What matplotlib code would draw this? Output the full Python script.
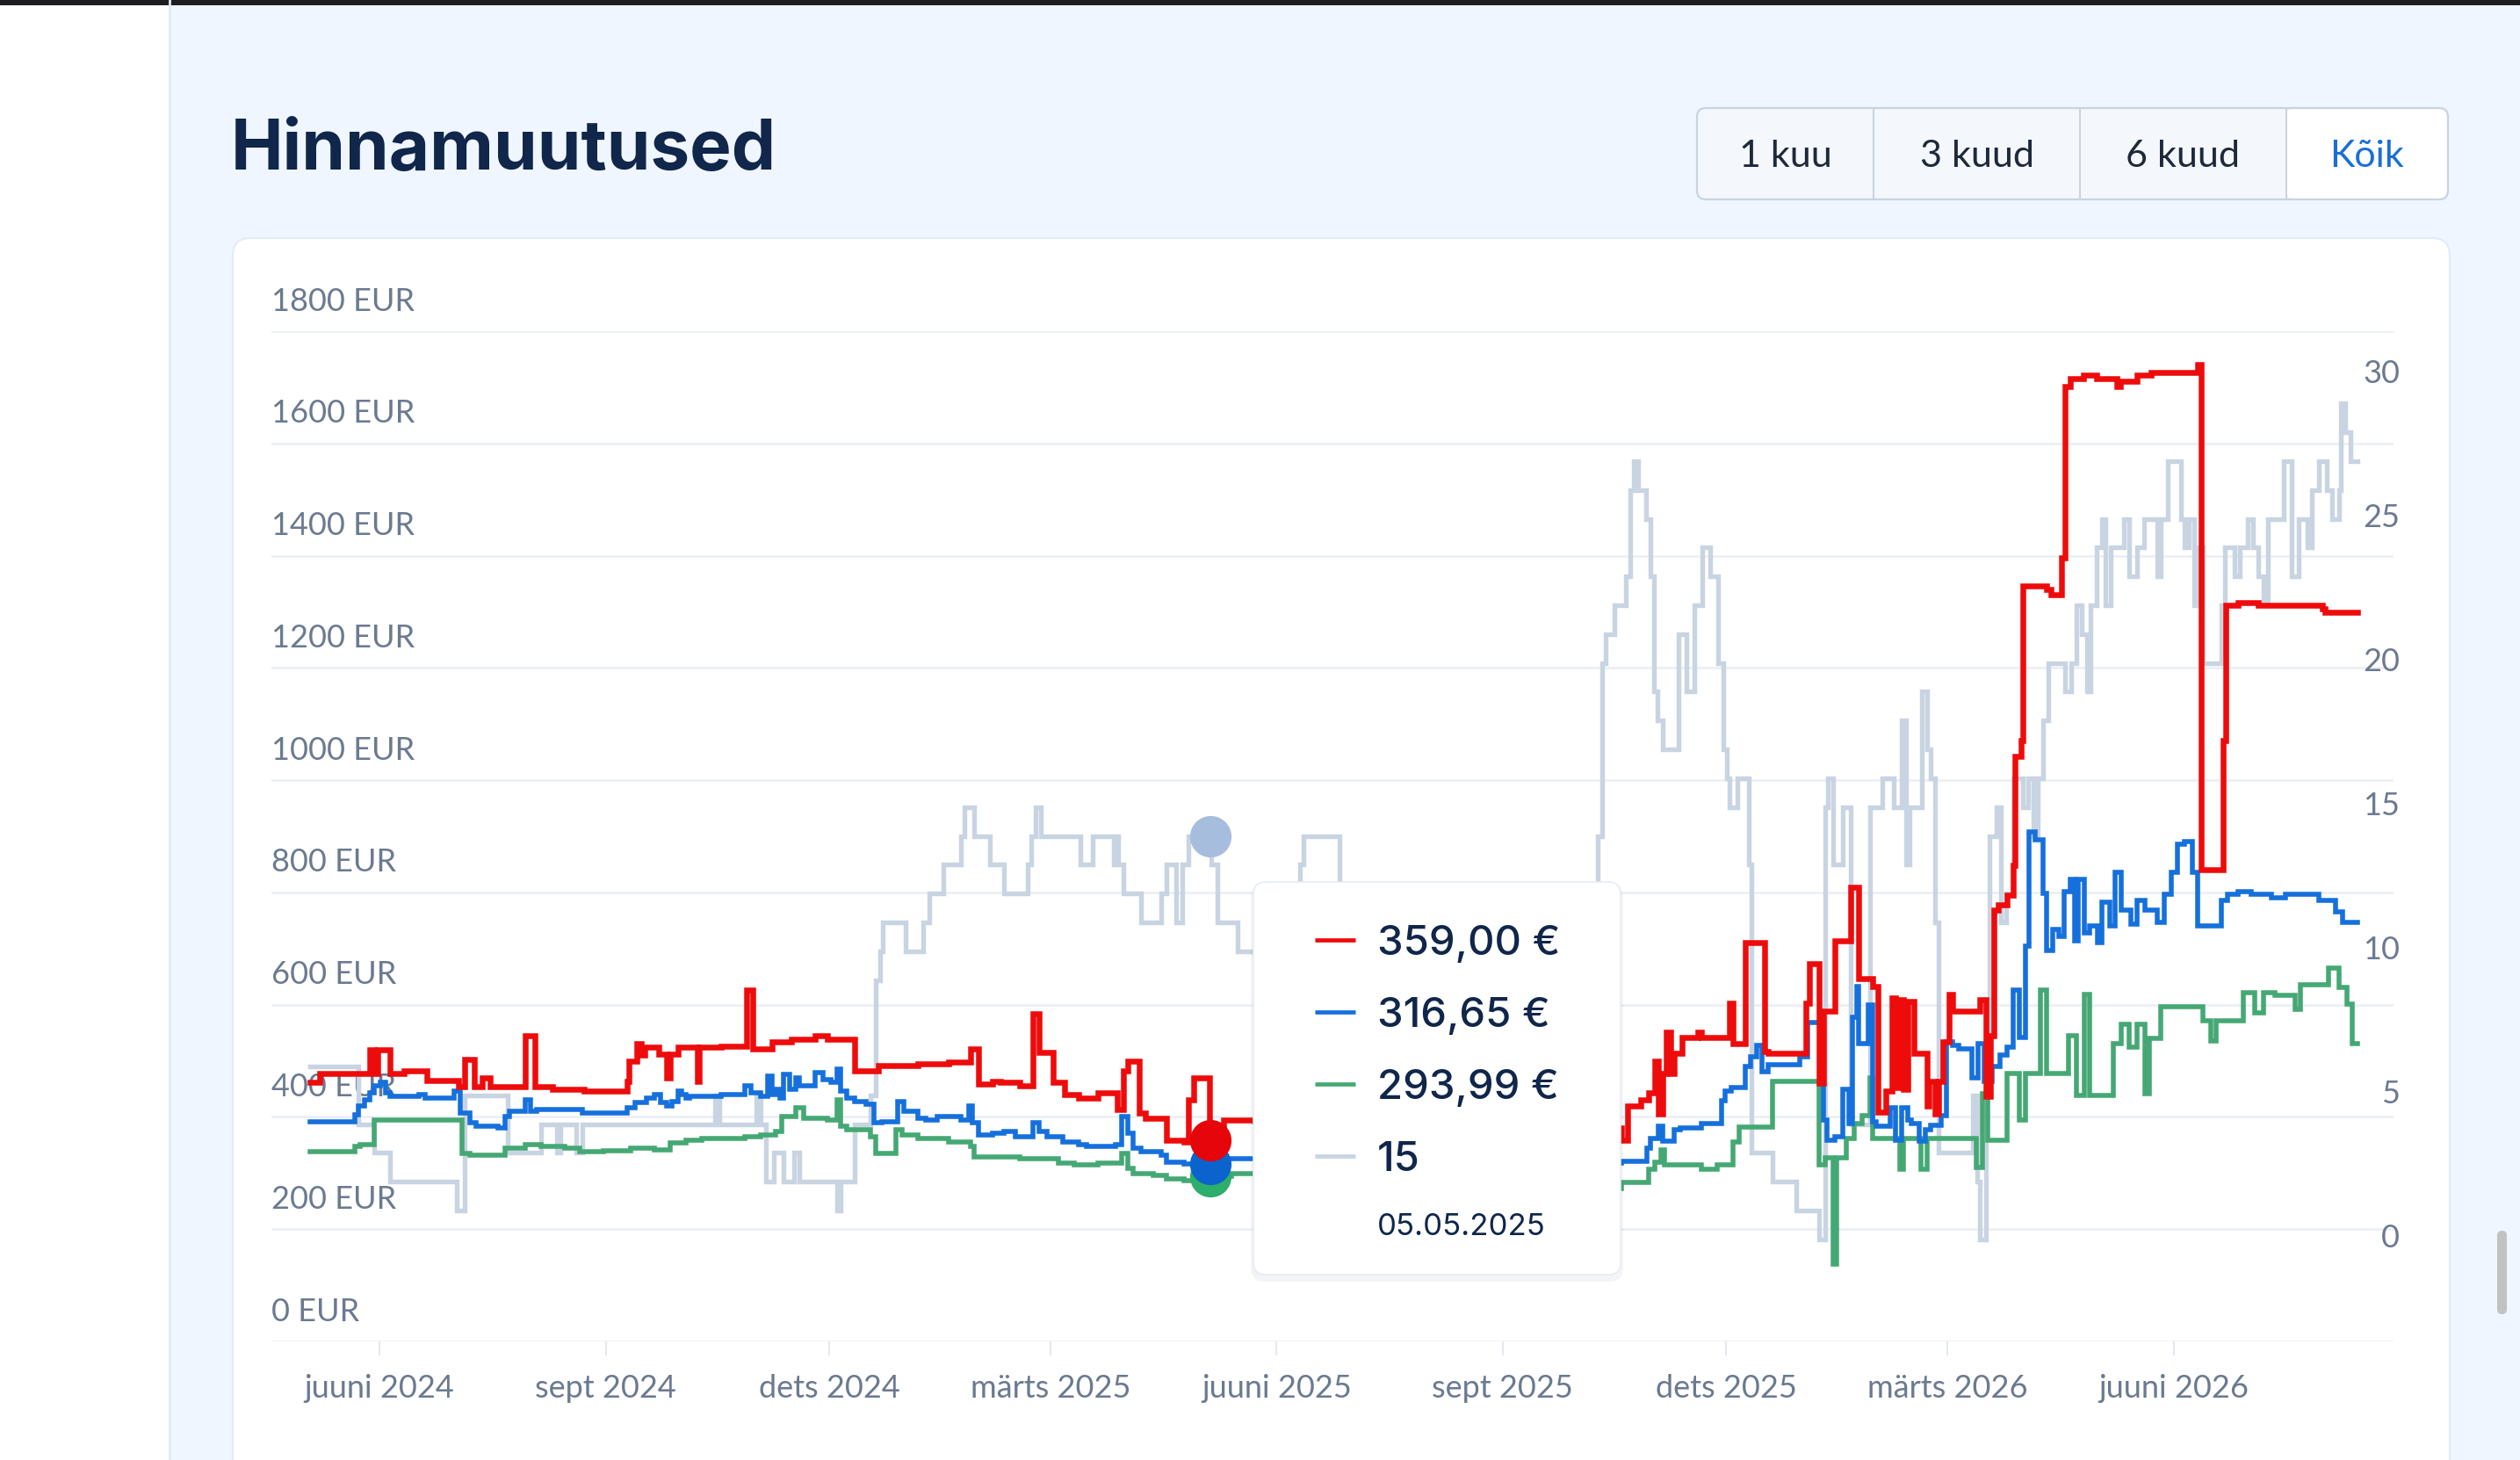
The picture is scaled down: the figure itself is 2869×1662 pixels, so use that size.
import numpy as np
import matplotlib
matplotlib.use('Agg')
import matplotlib.pyplot as plt
import matplotlib.dates as mdates
from matplotlib.patches import FancyBboxPatch, Rectangle
from matplotlib.transforms import offset_copy

plt.rcParams['font.family'] = ['Lato', 'DejaVu Sans']

W, H = 2869, 1662

# x values are days after 1 June 2024
START = np.datetime64('2024-06-01')

red_points = [
    (-28.2, 462), (-24.5, 477), (-4.0, 520), (-2.2, 478), (-0.6, 520), (4.2, 478),
    (9.8, 482), (19.3, 465), (32.1, 454), (34.5, 502), (38.5, 454), (41.7, 470),
    (44.9, 454), (59.2, 545), (63.2, 454), (70.4, 450), (83.2, 446), (100.7, 464),
    (101.5, 500), (104.7, 530), (106.3, 510), (107.9, 524), (113.5, 512), (116.7, 470),
    (118.3, 512), (121.4, 524), (129.4, 464), (130.2, 524), (139.0, 526), (149.4, 626),
    (151.8, 521), (159.7, 533), (167.7, 539), (177.3, 545), (182.1, 538), (193.2, 482),
    (202.8, 491), (219.0, 494), (231.7, 497), (240.5, 521), (243.7, 458), (249.3, 464),
    (252.5, 461), (260.4, 455), (266.0, 584), (268.4, 515), (274.0, 461), (278.8, 440),
    (284.4, 434), (292.3, 443), (300.3, 413), (302.7, 482), (304.3, 500), (309.1, 407),
    (311.5, 398), (320.3, 359), (327.4, 355), (329.0, 431), (331.4, 470), (337.8, 359),
    (343.4, 395), (356.0, 393), (430.0, 380), (505.3, 358), (507.7, 420), (513.3, 430),
    (516.5, 443), (518.9, 500), (520.5, 405), (522.1, 477), (523.6, 551), (525.2, 477),
    (526.8, 514), (530.0, 541), (536.4, 551), (538.0, 541), (549.2, 602), (550.8, 531),
    (555.6, 710), (563.5, 517), (565.1, 514), (580.3, 603), (581.9, 673), (585.9, 460),
    (587.5, 589), (592.3, 714), (598.6, 809), (601.8, 646), (607.4, 633), (609.8, 409),
    (613.0, 446), (615.4, 612), (617.0, 453), (618.6, 609), (620.2, 450), (621.8, 605),
    (624.2, 514), (629.7, 419), (630.5, 463), (632.9, 405), (634.5, 463), (636.1, 534),
    (638.5, 619), (640.1, 589), (651.3, 609), (653.7, 436), (655.3, 544), (656.9, 768),
    (658.5, 778), (662.4, 795), (664.8, 849), (665.6, 1043), (668.0, 1070), (668.7, 1346),
    (678.3, 1340), (680.0, 1331), (684.4, 1396), (685.8, 1701), (687.9, 1716), (693.3, 1721),
    (698.8, 1716), (707.0, 1701), (708.4, 1711), (715.2, 1721), (720.7, 1726), (739.8, 1741),
    (741.2, 841), (750.1, 1071), (751.4, 1311), (756.2, 1316), (764.4, 1311), (790.4, 1306),
    (791.8, 1299), (805.0, 1299),
]

blue_points = [
    (-28.2, 392), (-10.2, 404), (-8.6, 419), (-6.2, 431), (-3.8, 443), (-2.2, 455),
    (0.2, 461), (2.6, 443), (4.2, 437), (16.1, 440), (18.5, 434), (30.5, 446),
    (32.9, 407), (36.9, 389), (39.3, 383), (48.1, 380), (51.2, 401), (52.8, 410),
    (59.2, 431), (61.6, 410), (64.0, 413), (82.4, 407), (100.7, 416), (103.9, 425),
    (108.7, 434), (111.9, 440), (114.3, 425), (116.7, 419), (119.0, 428), (121.4, 446),
    (123.0, 440), (124.6, 434), (126.2, 437), (139.0, 440), (148.6, 455), (151.0, 443),
    (155.0, 437), (158.1, 473), (159.7, 440), (161.3, 449), (162.9, 434), (164.5, 476),
    (166.9, 449), (169.3, 470), (170.9, 455), (177.3, 479), (180.5, 467), (183.7, 461),
    (186.1, 485), (187.7, 446), (190.1, 434), (193.2, 428), (198.0, 422), (201.2, 389),
    (204.4, 392), (210.9, 427), (213.4, 410), (219.0, 398), (222.1, 395), (226.9, 401),
    (236.5, 395), (239.7, 419), (241.3, 389), (243.7, 368), (249.3, 371), (254.1, 374),
    (258.8, 365), (266.0, 389), (268.4, 374), (271.6, 365), (278.0, 356), (284.4, 350),
    (287.6, 347), (299.5, 350), (301.9, 401), (304.3, 371), (306.7, 344), (309.9, 338),
    (317.9, 332), (320.3, 320), (327.4, 316.65), (343.4, 326), (430.0, 318), (505.3, 321),
    (515.7, 344), (517.3, 362), (520.5, 383), (522.1, 357), (526.8, 377), (529.2, 380),
    (538.0, 388), (546.0, 429), (547.6, 446), (550.0, 453), (555.6, 490), (558.0, 507),
    (560.3, 528), (562.7, 480), (565.1, 493), (577.9, 507), (581.1, 568), (587.5, 395),
    (589.1, 358), (592.3, 364), (595.4, 449), (597.8, 388), (599.4, 578), (601.0, 632),
    (601.8, 531), (605.8, 599), (607.4, 392), (609.0, 383), (614.6, 416), (617.0, 358),
    (619.4, 416), (621.8, 395), (623.4, 388), (626.6, 357), (628.9, 377), (631.3, 385),
    (635.3, 402), (637.7, 534), (640.1, 528), (642.5, 521), (648.1, 470), (650.5, 531),
    (652.9, 463), (656.1, 490), (659.3, 511), (662.4, 524), (664.8, 626), (667.2, 541),
    (669.6, 705), (671.2, 908), (673.6, 894), (676.8, 799), (678.4, 697), (680.8, 734),
    (683.2, 721), (685.6, 802), (688.0, 823), (689.6, 714), (691.2, 823), (693.6, 728),
    (696.0, 741), (699.1, 711), (700.7, 782), (703.9, 741), (706.3, 836), (708.7, 768),
    (712.7, 744), (715.1, 785), (718.3, 768), (723.4, 746), (726.1, 796), (728.9, 836),
    (731.6, 886), (734.3, 891), (737.8, 836), (739.8, 741), (749.4, 786), (752.1, 796),
    (756.2, 801), (761.7, 796), (769.9, 791), (775.4, 796), (782.2, 796), (789.0, 786),
    (795.9, 766), (798.6, 746), (805.0, 746),
]

green_points = [
    (-28.2, 338), (-10.2, 347), (-7.8, 350), (-2.2, 395), (32.1, 395), (33.7, 335),
    (36.9, 332), (51.2, 344), (59.2, 350), (65.6, 347), (75.2, 344), (81.6, 338),
    (91.1, 340), (102.3, 344), (111.9, 341), (118.3, 353), (124.6, 359), (131.0, 362),
    (148.6, 365), (155.0, 368), (161.3, 374), (163.7, 401), (169.3, 416), (172.5, 398),
    (182.1, 395), (186.1, 431), (187.7, 383), (190.1, 377), (199.6, 365), (202.0, 335),
    (210.2, 377), (212.6, 368), (219.0, 362), (231.7, 356), (240.5, 347), (242.1, 329),
    (260.4, 326), (276.4, 317), (282.8, 314), (292.3, 317), (301.9, 335), (304.3, 308),
    (306.7, 299), (314.7, 296), (320.3, 290), (327.4, 287), (338.0, 293.99), (346.6, 299),
    (430.0, 272), (505.3, 283), (516.5, 307), (518.9, 320), (521.3, 341), (522.9, 314),
    (538.0, 307), (544.4, 314), (550.8, 355), (553.2, 382), (566.7, 463), (585.9, 314),
    (588.3, 327), (591.5, 137), (593.0, 327), (597.0, 361), (600.2, 388), (603.4, 402),
    (606.6, 470), (607.4, 361), (618.6, 307), (620.2, 361), (627.3, 307), (629.7, 361),
    (649.7, 310), (652.1, 442), (654.5, 358), (662.4, 477), (667.2, 395), (669.6, 477),
    (676.0, 626), (678.4, 477), (687.2, 544), (690.4, 439), (693.6, 619), (696.0, 439),
    (705.5, 531), (708.7, 565), (711.9, 524), (715.1, 565), (718.3, 442), (720.0, 540),
    (724.8, 596), (741.9, 571), (745.3, 536), (747.3, 571), (758.3, 621), (763.1, 586),
    (766.5, 621), (771.3, 616), (779.5, 591), (781.5, 636), (793.2, 666), (797.3, 631),
    (800.7, 601), (802.7, 531), (805.0, 531),
]

# offer count, right axis
gray_points = [
    (-28.2, 7), (-8.6, 5), (-2.2, 4), (4.2, 3), (31.3, 2), (34.5, 6), (52.0, 4),
    (65.6, 5), (72.0, 4), (73.6, 5), (80.0, 4), (82.4, 5), (136.6, 6), (138.2, 5),
    (153.4, 6), (155.0, 5), (157.3, 3), (160.5, 4), (164.5, 3), (168.5, 4), (170.9, 3),
    (186.1, 2), (187.7, 3), (193.2, 5), (199.6, 6), (202.0, 10), (203.6, 11), (204.6, 12),
    (214.2, 11), (221.3, 12), (223.7, 13), (229.3, 14), (236.5, 15), (238.1, 16),
    (242.1, 15), (248.5, 14), (254.1, 13), (263.6, 14), (265.2, 15), (266.8, 16),
    (269.2, 15), (285.2, 14), (290.0, 15), (298.7, 14), (299.5, 15), (300.6, 14),
    (302.7, 13), (309.9, 12), (317.9, 13), (320.3, 14), (324.3, 12), (326.6, 14),
    (329.0, 15), (338.6, 14), (341.0, 12), (349.0, 11), (360.0, 10), (374.5, 14),
    (376.1, 15), (390.5, 12), (440.0, 8), (495.7, 15), (497.4, 21), (499.0, 22),
    (502.3, 23), (507.2, 24), (508.9, 27), (510.5, 28), (512.1, 27), (515.4, 26),
    (517.0, 24), (518.7, 20), (520.0, 19), (522.1, 18), (528.5, 22), (531.8, 20),
    (535.0, 23), (538.3, 25), (541.6, 24), (544.8, 21), (546.8, 18), (548.1, 17),
    (549.2, 16), (552.4, 17), (557.2, 14), (558.4, 4), (566.7, 3), (576.3, 2),
    (585.9, 1), (588.3, 16), (589.5, 17), (591.5, 14), (595.4, 16), (598.6, 5),
    (606.6, 16), (611.4, 17), (616.2, 16), (619.4, 19), (621.0, 14), (622.6, 16),
    (627.7, 20), (629.7, 18), (631.1, 17), (632.9, 12), (634.5, 4), (648.2, 6),
    (650.2, 3), (651.3, 1), (653.7, 6), (655.0, 15), (657.8, 16), (659.8, 12),
    (661.9, 13), (664.6, 17), (668.7, 16), (670.8, 17), (672.8, 15), (674.9, 17),
    (676.9, 19), (679.0, 21), (685.8, 20), (688.5, 21), (690.6, 23), (692.6, 22),
    (694.7, 20), (696.1, 23), (698.8, 25), (700.8, 26), (702.2, 23), (704.3, 25),
    (709.7, 26), (711.8, 24), (715.2, 25), (717.9, 26), (723.4, 24), (724.8, 26),
    (727.5, 28), (733.0, 26), (734.3, 25), (736.4, 26), (738.5, 23), (739.8, 25),
    (741.9, 21), (749.4, 23), (750.8, 25), (754.9, 24), (756.9, 25), (760.3, 26),
    (762.4, 25), (764.4, 24), (766.5, 23), (768.5, 26), (774.7, 28), (778.1, 24),
    (780.8, 26), (784.3, 25), (786.3, 27), (789.1, 28), (792.5, 27), (794.5, 26),
    (797.3, 27), (798.0, 30), (800.0, 29), (802.1, 28), (805.0, 28),
]

hover_date = np.datetime64('2025-05-05')
hover_eur = [359.00, 316.65, 293.99]
hover_count = 15

eur_ticks = [0, 200, 400, 600, 800, 1000, 1200, 1400, 1600, 1800]
count_ticks = [0, 5, 10, 15, 20, 25, 30]
month_ticks = ['2024-06-01', '2024-09-01', '2024-12-01', '2025-03-01', '2025-06-01',
               '2025-09-01', '2025-12-01', '2026-03-01', '2026-06-01']
month_names = {3: 'märts', 6: 'juuni', 9: 'sept', 12: 'dets'}
range_buttons = ['1 kuu', '3 kuud', '6 kuud', 'Kõik']

RED = '#EE0B0B'
BLUE = '#1570DC'
GREEN = '#45A874'
GRAY = '#C9D4E2'
NAVY = '#10264A'
LABEL = '#6B7A90'
HEAD_FONT = ['Inter', 'Lato', 'DejaVu Sans']


def frac_rect(x0, y0, x1, y1):
    return [x0 / W, 1 - y1 / H, (x1 - x0) / W, (y1 - y0) / H]


base = mdates.date2num(START)


def to_xy(points):
    arr = np.array(points, dtype=float)
    return base + arr[:, 0], arr[:, 1]


fig = plt.figure(figsize=(W / 100, H / 100), dpi=100)
fig.patch.set_facecolor('#EFF6FF')

# page background layer, pixel coordinates from the top left
bg = fig.add_axes([0, 0, 1, 1], zorder=0)
bg.set_xlim(0, W)
bg.set_ylim(H, 0)
bg.axis('off')
bg.add_patch(Rectangle((0, 0), 192, H, fc='white', ec='none'))
bg.plot([193, 193], [0, H], color='#E2E9F2', lw=2)
bg.add_patch(Rectangle((0, 0), W, 5.5, fc='#1E1E20', ec='none'))
bg.add_patch(FancyBboxPatch((265, 271), 2524, 1500, boxstyle='round,pad=0,rounding_size=20',
                            fc='white', ec='#E3EBF5', lw=1.5))
bg.text(263, 193, 'Hinnamuutused', fontsize=57.5, fontweight='bold', color=NAVY,
        ha='left', va='baseline', family=HEAD_FONT)

# range selector
bx0, bx1, by0, by1 = 1932, 2787, 123, 227
seps = [2133, 2368, 2603]
bg.add_patch(FancyBboxPatch((bx0, by0), bx1 - bx0, by1 - by0,
                            boxstyle='round,pad=0,rounding_size=10', fc='#F4F7FB', ec='none'))
bg.add_patch(FancyBboxPatch((seps[2], by0 + 1), bx1 - seps[2] - 1, by1 - by0 - 2,
                            boxstyle='round,pad=0,rounding_size=9', fc='white', ec='none'))
bg.add_patch(FancyBboxPatch((bx0, by0), bx1 - bx0, by1 - by0,
                            boxstyle='round,pad=0,rounding_size=10', fc='none', ec='#C9D3DF', lw=1.6))
for sx in seps:
    bg.plot([sx, sx], [by0, by1], color='#C9D3DF', lw=1.4)
edges = [bx0] + seps + [bx1]
for i, name in enumerate(range_buttons):
    cx = (edges[i] + edges[i + 1]) / 2
    bg.text(cx, 190, name, fontsize=31, ha='center', va='baseline',
            color='#1A6FD6' if name == 'Kõik' else '#1E293B')

# scrollbar thumb
bg.add_patch(FancyBboxPatch((2843, 1401), 11, 95, boxstyle='round,pad=0,rounding_size=5.5',
                            fc='#C2C2C2', ec='none'))

plot_rect = frac_rect(309, 377, 2725, 1527)
xlim = (base - 44.0, base + 819.5)

# grid layer
ax_grid = fig.add_axes(plot_rect, zorder=1)
ax_grid.patch.set_visible(False)
ax_grid.set_xlim(*xlim)
ax_grid.set_ylim(0, 1800)
for s in ax_grid.spines.values():
    s.set_visible(False)
for v in eur_ticks:
    ax_grid.axhline(v, color='#EBEFF5', lw=1.8, zorder=0)
ax_grid.set_yticks([])
tick_dates = [np.datetime64(d) for d in month_ticks]
tick_x = [mdates.date2num(d) for d in tick_dates]
ax_grid.set_xticks(tick_x)
ax_grid.tick_params(axis='x', length=11.5, width=1.4, color='#E3E8EF', labelbottom=False)

ylab_tr = offset_copy(ax_grid.get_yaxis_transform(), fig=fig, y=23.5, units='dots')
for v in eur_ticks:
    ax_grid.text(0, v, f'{v} EUR', transform=ylab_tr, ha='left', va='baseline',
                 fontsize=26, color=LABEL)
xlab_tr = offset_copy(ax_grid.get_xaxis_transform(), fig=fig, y=-64, units='dots')
for d, xv in zip(tick_dates, tick_x):
    month = int(str(d)[5:7])
    ax_grid.text(xv, 0, f'{month_names[month]} {str(d)[:4]}', transform=xlab_tr,
                 ha='center', va='baseline', fontsize=26, color=LABEL)

# count layer (right axis)
ax2 = fig.add_axes(plot_rect, zorder=2)
ax2.patch.set_visible(False)
ax2.set_xlim(*xlim)
ax2.set_ylim(-2.54, 32.51)
ax2.axis('off')
gx, gy = to_xy(gray_points)
ax2.plot(gx, gy, drawstyle='steps-post', color=GRAY, lw=3.9, solid_joinstyle='miter')
rlab_tr = offset_copy(ax2.get_yaxis_transform(), fig=fig, x=7, y=23.5, units='dots')
for c in count_ticks:
    ax2.text(1.0, c, str(c), transform=rlab_tr, ha='right', va='baseline',
             fontsize=26, color=LABEL)

# price layer
ax = fig.add_axes(plot_rect, zorder=3)
ax.patch.set_visible(False)
ax.set_xlim(*xlim)
ax.set_ylim(0, 1800)
ax.axis('off')
for pts, col, lw in [(green_points, GREEN, 4.0), (blue_points, BLUE, 4.0), (red_points, RED, 4.7)]:
    x, y = to_xy(pts)
    ax.plot(x, y, drawstyle='steps-post', color=col, lw=lw, solid_joinstyle='miter')

hx = mdates.date2num(hover_date)
ax2.plot([hx], [hover_count], 'o', ms=34, color='#A7BDDD', mec='none')
for v, col in zip(hover_eur[::-1], ['#2DAE6A', '#0B63CE', '#E5050A']):
    ax.plot([hx], [v], 'o', ms=34, color=col, mec='none')

# tooltip overlay
ov = fig.add_axes([0, 0, 1, 1], zorder=4)
ov.patch.set_visible(False)
ov.set_xlim(0, W)
ov.set_ylim(H, 0)
ov.axis('off')
tx0, ty0, tx1, ty1 = 1427, 1004, 1845, 1451
ov.add_patch(FancyBboxPatch((tx0 - 3, ty0 + 2), tx1 - tx0 + 6, ty1 - ty0 + 6,
                            boxstyle='round,pad=0,rounding_size=16', fc='#1E293B', ec='none', alpha=0.05))
ov.add_patch(FancyBboxPatch((tx0, ty0), tx1 - tx0, ty1 - ty0,
                            boxstyle='round,pad=0,rounding_size=14', fc='white', ec='#E6ECF3', lw=1.2))
rows = [1069.5, 1151.6, 1233.8, 1316.0]
labels = [f'{v:.2f}'.replace('.', ',') + ' €' for v in hover_eur] + [str(hover_count)]
for ry, lab, col in zip(rows, labels, [RED, BLUE, GREEN, GRAY]):
    ov.plot([1497, 1543], [ry, ry], color=col, lw=3.4, solid_capstyle='butt')
    ov.text(1568, ry + 17, lab, fontsize=34, fontweight='medium', color=NAVY,
            ha='left', va='baseline', family=HEAD_FONT)
ds = str(hover_date)
ov.text(1568, 1405.5, f'{ds[8:10]}.{ds[5:7]}.{ds[:4]}', fontsize=25, color=NAVY,
        ha='left', va='baseline', family=HEAD_FONT)

fig.savefig('out.png', dpi=100, facecolor=fig.get_facecolor())
